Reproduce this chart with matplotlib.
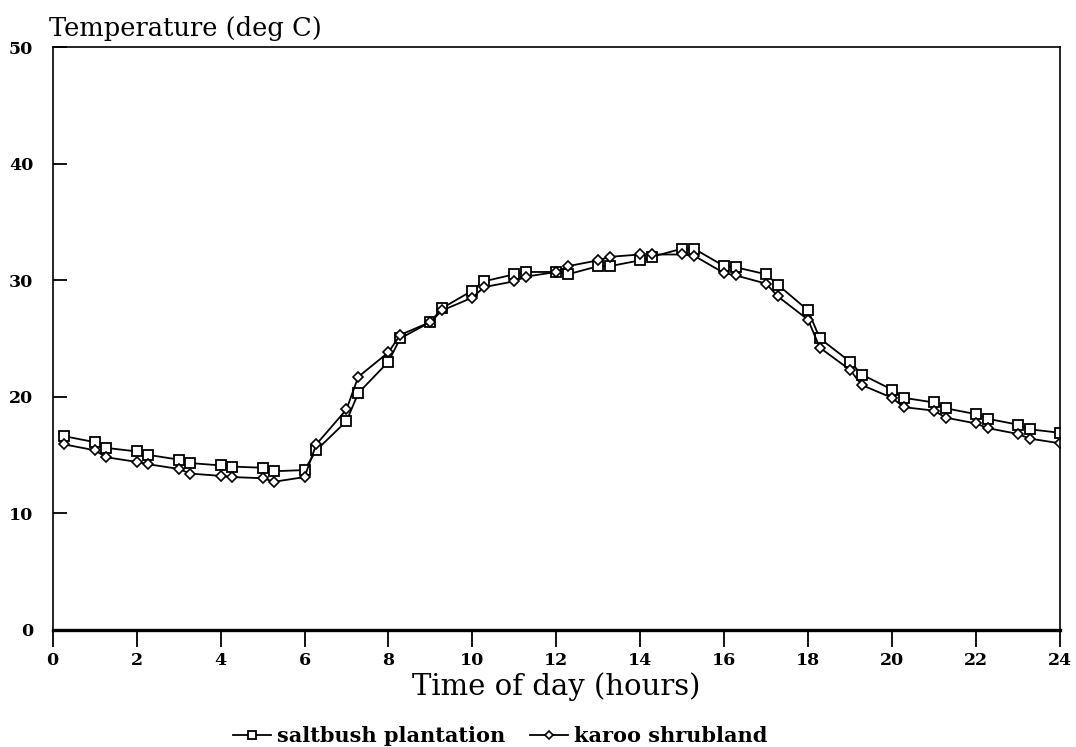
"""Soil temperature through the day, saltbush vs karoo."""

import matplotlib
matplotlib.use('Agg')
import matplotlib.pyplot as plt

# hours of the day (readings at the hour and ~17 min past)
hours = [0.28, 1.0, 1.28, 2.0, 2.28, 3.0, 3.28, 4.0, 4.28, 5.0, 5.28, 6.0,
         6.28, 7.0, 7.28, 8.0, 8.28, 9.0, 9.28, 10.0, 10.28, 11.0, 11.28, 12.0,
         12.28, 13.0, 13.28, 14.0, 14.28, 15.0, 15.28, 16.0, 16.28, 17.0, 17.28,
         18.0, 18.28, 19.0, 19.28, 20.0, 20.28, 21.0, 21.28, 22.0, 22.28, 23.0,
         23.28, 24.0]

saltbush = [16.6, 16.1, 15.6, 15.3, 15.0, 14.6, 14.3, 14.1, 14.0, 13.9, 13.6, 13.7,
            15.4, 17.9, 20.3, 23.0, 25.0, 26.4, 27.6, 29.1, 29.9, 30.5, 30.7, 30.7,
            30.5, 31.2, 31.2, 31.7, 32.0, 32.7, 32.7, 31.2, 31.1, 30.5, 29.6,
            27.4, 25.0, 23.0, 21.9, 20.6, 19.9, 19.5, 19.0, 18.5, 18.1, 17.6,
            17.2, 16.9]

karoo = [15.9, 15.4, 14.8, 14.4, 14.2, 13.8, 13.4, 13.2, 13.1, 13.0, 12.7, 13.1,
         15.9, 18.9, 21.7, 23.8, 25.3, 26.4, 27.4, 28.5, 29.4, 29.9, 30.3, 30.7,
         31.2, 31.7, 32.0, 32.2, 32.2, 32.2, 32.1, 30.6, 30.4, 29.7, 28.6,
         26.6, 24.2, 22.3, 21.0, 19.9, 19.1, 18.8, 18.2, 17.7, 17.3, 16.8,
         16.4, 16.0]

x_ticks = list(range(0, 25, 2))
y_ticks = [0, 10, 20, 30, 40, 50]

fig = plt.figure(figsize=(10.76, 7.47), dpi=100)
ax = fig.add_axes([0.049, 0.157, 0.936, 0.780])

ax.plot(hours, saltbush, color='black', lw=1.3, marker='s', ms=7.5,
        mfc='white', mec='black', mew=1.3, label='saltbush plantation')
ax.plot(hours, karoo, color='black', lw=1.3, marker='D', ms=5,
        mfc='white', mec='black', mew=1.2, label='karoo shrubland')

ax.set_xlim(0, 24)
ax.set_ylim(0, 50)
ax.set_xticks(x_ticks)
ax.set_yticks(y_ticks)

tick_font = dict(family='DejaVu Serif', weight='bold', size=12.5)
ax.set_xticklabels([str(t) for t in x_ticks], fontdict=tick_font)
ax.set_yticklabels([str(t) for t in y_ticks], fontdict=tick_font)
ax.tick_params(axis='x', direction='out', length=12, width=1.3, pad=4)
ax.tick_params(axis='y', direction='in', length=10, width=1.3, pad=14)

for side in ['left', 'right', 'top']:
    ax.spines[side].set_linewidth(1.2)
ax.spines['bottom'].set_linewidth(2.4)

ax.set_xlabel('Time of day (hours)', family='DejaVu Serif', fontsize=21,
              labelpad=2)
fig.text(0.046, 0.962, 'Temperature (deg C)', family='DejaVu Serif',
         fontsize=18.5, ha='left', va='center')

fig.legend(loc='lower center', bbox_to_anchor=(0.465, -0.024), ncol=2,
           frameon=False, handlelength=1.8, handletextpad=0.3,
           columnspacing=1.2, markerscale=0.75,
           prop=dict(family='DejaVu Serif', weight='bold', size=15))

fig.savefig('out.png', dpi=100)
